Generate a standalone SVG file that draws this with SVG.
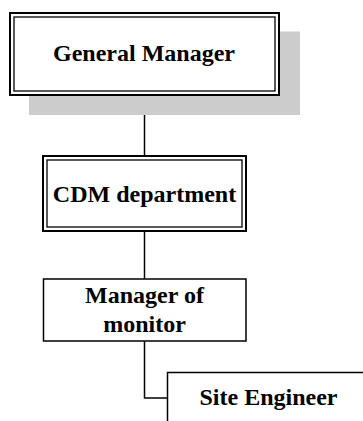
<svg xmlns="http://www.w3.org/2000/svg" width="363" height="421" viewBox="0 0 363 421">
<style>
.box{fill:#fff;stroke:#000;stroke-width:1.5}
.outer{fill:#fff;stroke:#000;stroke-width:2}
.inner{fill:none;stroke:#000;stroke-width:1.3}
.lbl{font-family:"Liberation Serif","Times New Roman",serif;font-weight:bold;font-size:24px;fill:#000;text-anchor:middle}
.conn{fill:none;stroke:#000;stroke-width:1.5}
</style>
<rect width="363" height="421" fill="#fff"/>
<g id="connectors">
<line class="conn" x1="144.5" y1="95" x2="144.5" y2="156"/>
<line class="conn" x1="144.5" y1="231" x2="144.5" y2="279"/>
<polyline class="conn" points="144.5,341 144.5,398 167.5,398"/>
</g>
<g id="general-manager">
<rect x="29" y="31.5" width="271" height="83.5" fill="#cccccc"/>
<rect class="outer" x="10" y="13" width="269" height="82"/>
<rect class="inner" x="14" y="17" width="261" height="74"/>
<text class="lbl" x="144" y="61">General Manager</text>
</g>
<g id="cdm-department">
<rect class="outer" x="43" y="156" width="203" height="75"/>
<rect class="inner" x="47" y="160" width="195" height="67"/>
<text class="lbl" x="144.5" y="201.5">CDM department</text>
</g>
<g id="manager-of-monitor">
<rect class="box" x="43.5" y="279" width="202.5" height="62"/>
<text class="lbl" x="144.5" y="303">Manager of</text>
<text class="lbl" x="144.5" y="331.5">monitor</text>
</g>
<g id="site-engineer">
<rect class="box" x="167.5" y="372.5" width="203" height="62"/>
<text class="lbl" x="268.5" y="405">Site Engineer</text>
</g>
</svg>
